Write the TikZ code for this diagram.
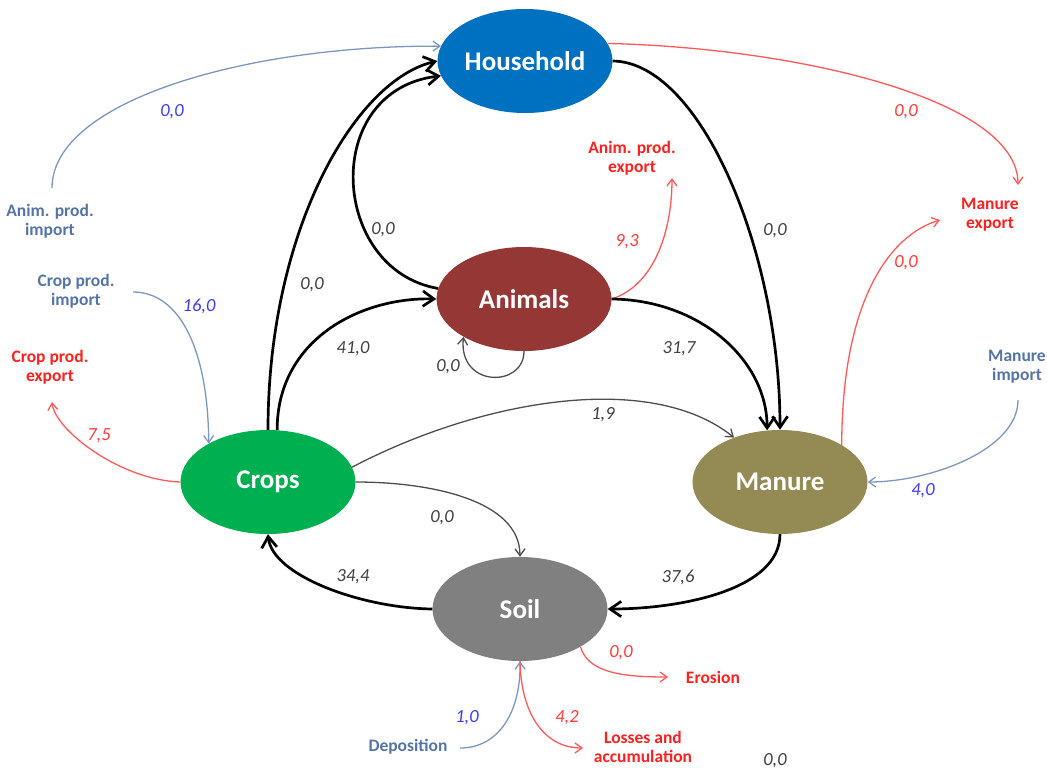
\documentclass[tikz,border=0pt]{standalone}
\usepackage{fontspec}
\setmainfont{Carlito}
\usetikzlibrary{shapes.geometric,arrows.meta}
\definecolor{household}{HTML}{0070C0}
\definecolor{animals}{HTML}{953735}
\definecolor{crops}{HTML}{00B050}
\definecolor{manure}{HTML}{948A54}
\definecolor{soil}{HTML}{808080}
\definecolor{impline}{HTML}{7B97C0}
\definecolor{imptext}{HTML}{5574A6}
\definecolor{expline}{HTML}{FF5A5A}
\definecolor{exptext}{HTML}{FF2020}
\definecolor{valblue}{HTML}{3B3BFF}
\definecolor{valred}{HTML}{FF3B3B}
\definecolor{valgrey}{HTML}{404040}
\definecolor{minorgrey}{HTML}{4D4D4D}
\tikzstyle{hub}=[ellipse, minimum width=175pt, minimum height=104pt, inner sep=0pt, text=white, font=\bfseries\fontsize{27}{30}\selectfont]
\tikzstyle{flow}=[->, line width=2.7pt, black]
\tikzstyle{minor}=[->, line width=1.3pt, minorgrey]
\tikzstyle{inflow}=[->, line width=1.3pt, impline]
\tikzstyle{outflow}=[->, line width=1.3pt, expline]
\tikzstyle{val}=[font=\itshape\fontsize{18.5}{20}\selectfont, text=valgrey]
\tikzstyle{inval}=[val, text=valblue]
\tikzstyle{outval}=[val, text=valred]
\tikzstyle{intext}=[align=center, font=\bfseries\fontsize{17.5}{19}\selectfont, text=imptext]
\tikzstyle{outtext}=[intext, text=exptext]

\begin{document}
\begin{tikzpicture}[x=1pt, y=-1pt, >={Straight Barb[length=3pt 3, width=5pt 3.8]}]
                    \useasboundingbox (0,0) rectangle (1047,771);
                    % pools
                    \node[hub, fill=household] (house)   at (525,61)  {Household};
                    \node[hub, fill=animals]   (animals) at (524,299) {Animals};
                    \node[hub, fill=crops]     (crops)   at (268,482) {Crops};
                    \node[hub, fill=manure]    (manure)  at (780,482) {Manure};
                    \node[hub, fill=soil]      (soil)    at (520,609) {Soil};
                    % imports and exports
                    \node[intext]  (animimp) at (50,221)   {Anim. prod.\\import};
                    \node[intext]  (cropimp) at (76,291)   {Crop prod.\\import};
                    \node[outtext] (cropexp) at (50,367)   {Crop prod.\\export};
                    \node[outtext] (animexp) at (632,158)  {Anim. prod.\\export};
                    \node[outtext] (manexp)  at (990,215)  {Manure\\export};
                    \node[intext]  (manimp)  at (1017,367) {Manure\\import};
                    \node[outtext] (erosion) at (713,677)  {Erosion};
                    \node[intext]  (depos)   at (408,747)  {Deposition};
                    \node[outtext] (losses)  at (643,747)  {Losses and\\accumulation};
                    \coordinate (aimp)  at (52,188);
                    \coordinate (cimp)  at (133,292);
                    \coordinate (cexp)  at (52,402);
                    \coordinate (aexp)  at (672,178);
                    \coordinate (mexp1) at (1018,185);
                    \coordinate (mexp2) at (940,220);
                    \coordinate (mimp)  at (1018,400);
                    \coordinate (eros)  at (668,677);
                    \coordinate (dep)   at (460,748);
                    \coordinate (loss)  at (583,748);
                    % flows
                    \draw[inflow]  (aimp) .. controls (52,100) and (250,45) .. (house.170);
                    \draw[outflow] (house.12) .. controls (800,48) and (1018,100) .. (mexp1);
                    \draw[flow]    (crops.north) .. controls (268,230) and (355,80) .. (house.west);
                    \draw[flow]    (animals.173) .. controls (330,270) and (320,90) .. (house.190);
                    \draw[flow]    (crops.80) .. controls (277,340) and (360,297) .. (animals.west);
                    \draw[minor]   (animals.south) .. controls (524,388) and (458,388) .. (animals.212);
                    \draw[outflow] (animals.east) .. controls (655,285) and (672,230) .. (aexp);
                    \draw[flow]    (house.east) .. controls (700,62) and (780,250) .. (manure.north);
                    \draw[flow]    (animals.east) .. controls (700,300) and (767,360) .. (manure.104);
                    \draw[minor]   (crops.10) .. controls (480,400) and (650,370) .. (manure.136);
                    \draw[minor]   (crops.east) .. controls (430,482) and (520,500) .. (soil.north);
                    \draw[flow]    (soil.west) .. controls (360,608) and (272,575) .. (crops.south);
                    \draw[flow]    (manure.south) .. controls (780,590) and (680,609) .. (soil.east);
                    \draw[outflow] (manure.31) .. controls (842,300) and (890,235) .. (mexp2);
                    \draw[inflow]  (mimp) .. controls (1018,450) and (930,482) .. (manure.east);
                    \draw[inflow]  (cimp) .. controls (180,292) and (208,350) .. (crops.147);
                    \draw[outflow] (crops.west) .. controls (120,480) and (55,430) .. (cexp);
                    \draw[outflow] (soil.328) .. controls (588,672) and (620,677) .. (eros);
                    \draw[inflow]  (dep) .. controls (500,748) and (521,710) .. (soil.south);
                    \draw[outflow] (soil.south) .. controls (521,715) and (545,748) .. (loss);
                    % values
                    \node[inval]  (v-aimp)  at (172,112) {0,0};
                    \node[outval] (v-hexp)  at (906,112) {0,0};
                    \node[val]    (v-ch)    at (312,285) {0,0};
                    \node[val]    (v-ah)    at (383,230) {0,0};
                    \node[val]    (v-ca)    at (353,349) {41,0};
                    \node[val]    (v-aa)    at (448,367) {0,0};
                    \node[outval] (v-aexp)  at (627,242) {9,3};
                    \node[val]    (v-hm)    at (775,231) {0,0};
                    \node[val]    (v-am)    at (679,349) {31,7};
                    \node[val]    (v-cm)    at (603,415) {1,9};
                    \node[outval] (v-mexp)  at (906,263) {0,0};
                    \node[inval]  (v-mimp)  at (923,491) {4,0};
                    \node[inval]  (v-cimp)  at (199,306) {16,0};
                    \node[outval] (v-cexp)  at (99,436)  {7,5};
                    \node[val]    (v-cs)    at (442,518) {0,0};
                    \node[val]    (v-sc)    at (353,577) {34,4};
                    \node[val]    (v-ms)    at (678,577) {37,6};
                    \node[outval] (v-eros)  at (621,653) {0,0};
                    \node[inval]  (v-dep)   at (467,718) {1,0};
                    \node[outval] (v-loss)  at (567,718) {4,2};
                    \node[val]    (v-stray) at (775,761) {0,0};
                \end{tikzpicture}
\end{document}
